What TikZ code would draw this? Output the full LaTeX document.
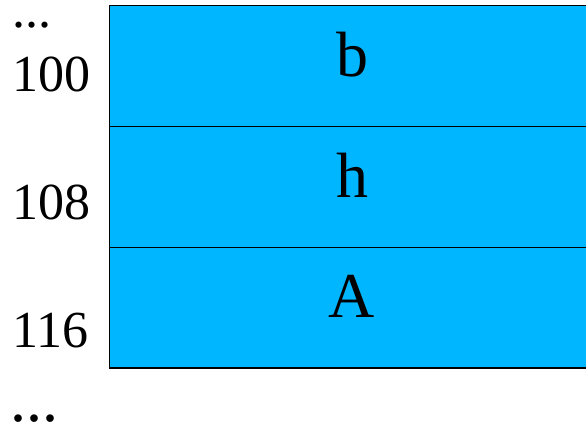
\documentclass[tikz,border=0pt]{standalone}
\usepackage{fontspec}
\setmainfont{Liberation Serif}
\definecolor{cellblue}{RGB}{0,183,255}
\tikzset{
  cell/.style={fill=cellblue, draw=black, line width=1.8pt},
  addr/.style={anchor=base west, inner sep=0pt, font=\fontsize{52}{52}\selectfont},
  celltext/.style={anchor=base, inner sep=0pt, font=\fontsize{64}{64}\selectfont},
  dots/.style={text height=8pt, text depth=0pt},
}
\begin{document}
\begin{tikzpicture}[x=1pt,y=-1pt]
\useasboundingbox (0,0) rectangle (586,427);
\clip (0,0) rectangle (586,427);
\draw[cell] (109.5,5.5) rectangle (600,126.5);
\draw[cell] (109.5,126.5) rectangle (600,247.5);
\draw[cell] (109.5,247.5) rectangle (600,368);
\node[celltext] (b) at (352,77) {b};
\node[celltext] (h) at (352,198) {h};
\node[celltext] (A) at (352,318) {A};
\node[addr, dots] (dtop) at (12,28) {...};
\node[addr] (a100) at (12,92) {100};
\node[addr] (a108) at (12,220) {108};
\node[addr] (a116) at (12,348) {116};
\node[addr, dots, font=\fontsize{64}{64}\selectfont] (dbot) at (10,421) {...};
\end{tikzpicture}
\end{document}
